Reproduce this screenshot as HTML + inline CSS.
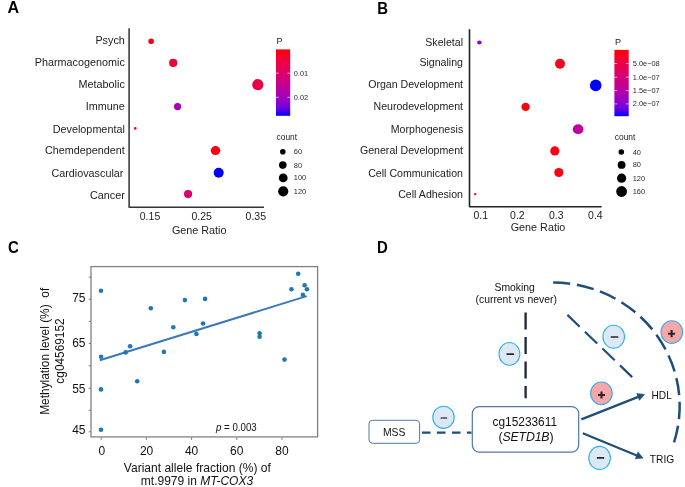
<!DOCTYPE html>
<html><head><meta charset="utf-8">
<style>
html,body{margin:0;padding:0;background:#fff;}
body{width:685px;height:487px;overflow:hidden;}
svg{display:block;will-change:transform;font-family:"Liberation Sans",sans-serif;}
</style></head>
<body>
<svg width="685" height="487" viewBox="0 0 685 487">
<defs>
<linearGradient id="pg" x1="0" y1="0" x2="0" y2="1">
<stop offset="0" stop-color="#ff0000"/>
<stop offset="0.125" stop-color="#f40031"/>
<stop offset="0.25" stop-color="#e80050"/>
<stop offset="0.375" stop-color="#da006c"/>
<stop offset="0.5" stop-color="#ca0088"/>
<stop offset="0.625" stop-color="#b500a5"/>
<stop offset="0.75" stop-color="#9a00c3"/>
<stop offset="0.875" stop-color="#7300e0"/>
<stop offset="1" stop-color="#0000ff"/>
</linearGradient>
</defs>

<!-- ============ PANEL A ============ -->
<text transform="translate(7.6 13) scale(1.06 1.04)" font-size="15.2" font-weight="bold" fill="#000">A</text>
<g font-size="10.8" fill="#222" text-anchor="end">
<text x="124.8" y="44.4">Psych</text>
<text x="124.8" y="65.95">Pharmacogenomic</text>
<text x="124.8" y="88.05">Metabolic</text>
<text x="124.8" y="110.15">Immune</text>
<text x="124.8" y="132.8">Developmental</text>
<text x="124.8" y="154.35">Chemdependent</text>
<text x="123.4" y="177">Cardiovascular</text>
<text x="124.8" y="198.55">Cancer</text>
</g>
<path d="M129.1 28.2V207.3H264" fill="none" stroke="#333" stroke-width="1.5" stroke-linejoin="round"/>
<g>
<circle cx="151.1" cy="41.3" r="2.8" fill="#fa0018"/>
<circle cx="173.2" cy="62.9" r="4.1" fill="#eb003c"/>
<circle cx="257.8" cy="84.7" r="5.6" fill="#e80048"/>
<circle cx="177.6" cy="106.6" r="3.6" fill="#a400b6"/>
<circle cx="135.2" cy="128.4" r="1.3" fill="#ff0000"/>
<ellipse cx="215.5" cy="150.6" rx="4.8" ry="4.5" fill="#ff0010"/>
<circle cx="218.7" cy="172.7" r="5" fill="#0000ff"/>
<circle cx="188.1" cy="194.1" r="4.1" fill="#d8006c"/>
</g>
<g font-size="10.5" fill="#222" text-anchor="middle">
<text x="150" y="220.1">0.15</text>
<text x="201.7" y="220.1">0.25</text>
<text x="255.8" y="220.1">0.35</text>
</g>
<text x="199.2" y="234" font-size="10.8" fill="#222" text-anchor="middle">Gene Ratio</text>
<!-- legend A -->
<text x="276.5" y="44" font-size="9" fill="#222">P</text>
<rect x="276" y="49.4" width="14.2" height="66.4" fill="url(#pg)"/>
<g stroke="#fff" stroke-width="0.8" opacity="0.8">
<path d="M276 73.2h2.8M287.4 73.2h2.8M276 97.3h2.8M287.4 97.3h2.8"/>
</g>
<g font-size="7.4" fill="#2a2a2a">
<text x="293.8" y="75.8">0.01</text>
<text x="293.8" y="100">0.02</text>
</g>
<text x="276.6" y="140.3" font-size="8.4" fill="#222">count</text>
<g fill="#000">
<circle cx="282.8" cy="151.8" r="2.8"/>
<circle cx="282.8" cy="165.1" r="3.8"/>
<circle cx="283.2" cy="177.9" r="4.4"/>
<circle cx="283.2" cy="191.3" r="5.1"/>
</g>
<g font-size="7.4" fill="#2a2a2a">
<text x="293.8" y="154.3">60</text>
<text x="293.8" y="167.6">80</text>
<text x="293.8" y="180.4">100</text>
<text x="293.8" y="193.8">120</text>
</g>

<!-- ============ PANEL B ============ -->
<text transform="translate(377.2 13.6) scale(1 1.15)" font-size="15" font-weight="bold" fill="#000">B</text>
<g font-size="10.6" fill="#222" text-anchor="end">
<text x="463" y="46.3">Skeletal</text>
<text x="463" y="65.7">Signaling</text>
<text x="463" y="87.8">Organ Development</text>
<text x="463" y="110.4">Neurodevelopment</text>
<text x="463.2" y="133.2">Morphogenesis</text>
<text x="463" y="154.05">General Development</text>
<text x="463" y="176.55">Cell Communication</text>
<text x="463" y="198.4">Cell Adhesion</text>
</g>
<path d="M469.5 29.2V206.8H601.6" fill="none" stroke="#222" stroke-width="1.6" stroke-linejoin="round"/>
<g>
<ellipse cx="479.4" cy="42.4" rx="2.3" ry="2" fill="#9400c8"/>
<circle cx="560" cy="63.7" r="5" fill="#ff0018"/>
<circle cx="595.7" cy="85.4" r="5.8" fill="#0000ff"/>
<circle cx="525.6" cy="106.9" r="4.2" fill="#ff0010"/>
<ellipse cx="578.1" cy="129.2" rx="5.3" ry="4.9" fill="#c0009a"/>
<circle cx="554.8" cy="150.9" r="4.6" fill="#ff0010"/>
<circle cx="558.8" cy="172.5" r="4.6" fill="#ff0010"/>
<circle cx="475.2" cy="194.1" r="1.2" fill="#ff0000"/>
</g>
<g font-size="10.5" fill="#222" text-anchor="middle">
<text x="480.8" y="218.8">0.1</text>
<text x="517.4" y="218.8">0.2</text>
<text x="556.2" y="218.8">0.3</text>
<text x="595.4" y="218.8">0.4</text>
</g>
<text x="538" y="231.2" font-size="10.8" fill="#222" text-anchor="middle">Gene Ratio</text>
<!-- legend B -->
<text x="615" y="45" font-size="9" fill="#222">P</text>
<rect x="614.4" y="49.9" width="14.3" height="66.3" fill="url(#pg)"/>
<g stroke="#fff" stroke-width="0.8" opacity="0.8">
<path d="M614.4 63.5h2.8M625.9 63.5h2.8M614.4 77.2h2.8M625.9 77.2h2.8M614.4 90.6h2.8M625.9 90.6h2.8M614.4 103.9h2.8M625.9 103.9h2.8"/>
</g>
<g font-size="7.4" fill="#2a2a2a">
<text x="632.8" y="66">5.0e−08</text>
<text x="632.8" y="79.7">1.0e−07</text>
<text x="632.8" y="93.1">1.5e−07</text>
<text x="632.8" y="106.4">2.0e−07</text>
</g>
<text x="614.8" y="140.3" font-size="8.4" fill="#222">count</text>
<g fill="#000">
<circle cx="621.3" cy="152" r="2.8"/>
<circle cx="621.6" cy="164.9" r="3.9"/>
<circle cx="621.6" cy="178.2" r="4.6"/>
<circle cx="621.6" cy="191.5" r="5.4"/>
</g>
<g font-size="7.4" fill="#2a2a2a">
<text x="632.7" y="154.5">40</text>
<text x="632.7" y="167.4">80</text>
<text x="632.7" y="180.7">120</text>
<text x="632.7" y="194">160</text>
</g>

<!-- ============ PANEL C ============ -->
<text transform="translate(7.9 252.7) scale(1 1.06)" font-size="15" font-weight="bold" fill="#000">C</text>
<rect x="91" y="266.6" width="226.6" height="170.3" fill="none" stroke="#808080" stroke-width="1.3"/>
<g stroke="#666" stroke-width="0.9">
<path d="M88.8 277.2h2M88.8 299.3h2M88.8 321.4h2M88.8 343.5h2M88.8 365.8h2M88.8 388.3h2M88.8 410.3h2M88.8 431.8h2"/>
<path d="M101.2 437.5v2.3M146.4 437.5v2.3M191.6 437.5v2.3M236.8 437.5v2.3M282 437.5v2.3"/>
</g>
<g font-size="12" fill="#111" text-anchor="end">
<text x="85.5" y="302.1">75</text>
<text x="85.5" y="346.6">65</text>
<text x="85.5" y="392.6">55</text>
<text x="85.5" y="433.8">45</text>
</g>
<g font-size="12" fill="#111" text-anchor="middle">
<text x="101.9" y="454.8">0</text>
<text x="146.6" y="454.8">20</text>
<text x="191.6" y="454.8">40</text>
<text x="236.8" y="454.8">60</text>
<text x="282" y="454.8">80</text>
</g>
<g font-size="12" fill="#111" text-anchor="middle">
<text transform="translate(49.3 351.3) rotate(-90)" textLength="127" lengthAdjust="spacingAndGlyphs">Methylation level (%)&#160; of</text>
<text transform="translate(63.8 351) rotate(-90)" textLength="65.3" lengthAdjust="spacingAndGlyphs">cg04569152</text>
<text x="197.3" y="472.3" textLength="147">Variant allele fraction (%) of</text>
<text x="197" y="485">mt.9979 in <tspan font-style="italic">MT-COX3</tspan></text>
</g>
<text x="216" y="430.8" font-size="10.4" fill="#111" textLength="40.7" lengthAdjust="spacingAndGlyphs"><tspan font-style="italic">p</tspan> = 0.003</text>
<path d="M99.8 360.3L306.7 296.1" stroke="#3a7ab8" stroke-width="2" fill="none"/>
<g fill="#1f77b4">
<circle cx="101" cy="290.7" r="2.3"/>
<circle cx="101.1" cy="356.8" r="2.3"/>
<circle cx="101" cy="389.4" r="2.3"/>
<circle cx="101" cy="429.8" r="2.3"/>
<circle cx="125.7" cy="352.4" r="2.3"/>
<circle cx="130.1" cy="346.2" r="2.3"/>
<circle cx="137.2" cy="381.2" r="2.3"/>
<circle cx="150.8" cy="308.3" r="2.3"/>
<circle cx="163.9" cy="351.9" r="2.3"/>
<circle cx="173.3" cy="327.2" r="2.3"/>
<circle cx="184.9" cy="300.1" r="2.3"/>
<circle cx="196.4" cy="333.9" r="2.3"/>
<circle cx="203.1" cy="323.5" r="2.3"/>
<circle cx="205.1" cy="298.9" r="2.3"/>
<circle cx="259.6" cy="333.3" r="2.3"/>
<circle cx="259.6" cy="336.7" r="2.3"/>
<circle cx="284.5" cy="359.6" r="2.3"/>
<circle cx="291.4" cy="289.2" r="2.3"/>
<circle cx="298.2" cy="273.7" r="2.3"/>
<circle cx="304.6" cy="285.3" r="2.3"/>
<circle cx="306.9" cy="289.2" r="2.3"/>
<circle cx="302.9" cy="294.9" r="2.3"/>
</g>

<!-- ============ PANEL D ============ -->
<text transform="translate(376.9 252.6) scale(1.02 1.1)" font-size="14.6" font-weight="bold" fill="#000">D</text>
<g font-size="10.4" fill="#111" text-anchor="middle">
<text x="514.7" y="290.7">Smoking</text>
<text x="516.2" y="303.3">(current vs never)</text>
</g>
<!-- big arc -->
<path d="M553.1 282.46A127.32 123.52 0 0 1 674.05 442.31" fill="none" stroke="#1f4e79" stroke-width="2.5" stroke-dasharray="17.2 6.8"/>
<!-- diagonal -->
<path d="M567.4 314.9L632.2 377.1" fill="none" stroke="#1f4e79" stroke-width="2.2" stroke-dasharray="17 7.3"/>
<!-- vertical -->
<path d="M525.6 312.4V398.2" fill="none" stroke="#1c2838" stroke-width="2.3" stroke-dasharray="17 7.5"/>
<!-- MSS dashed -->
<path d="M421.9 432.7H471.5" fill="none" stroke="#1f4e79" stroke-width="2.2" stroke-dasharray="8.6 6.4"/>
<!-- arrows -->
<path d="M581.4 419.4L639.5 396.4" stroke="#1f4e79" stroke-width="2.3" fill="none"/>
<path d="M644.6 394.4L639.4 400.3L636.8 393.6Z" fill="#1f4e79" stroke="#1f4e79" stroke-width="0.6" stroke-linejoin="round"/>
<path d="M582.8 433.3L638 456" stroke="#1f4e79" stroke-width="2.3" fill="none"/>
<path d="M643.1 458.1L635.3 458.8L638 452.1Z" fill="#1f4e79" stroke="#1f4e79" stroke-width="0.6" stroke-linejoin="round"/>
<!-- boxes -->
<rect x="369" y="420.3" width="50.6" height="23" rx="3.5" fill="#fff" stroke="#4f78a6" stroke-width="1"/>
<text x="394.2" y="435.8" font-size="10.4" fill="#111" text-anchor="middle">MSS</text>
<rect x="472.3" y="406.6" width="106.4" height="45.5" rx="7" fill="#fff" stroke="#4f78a6" stroke-width="1.2"/>
<g font-size="11.6" fill="#111" text-anchor="middle">
<text x="524.8" y="426.3" font-size="11.9" textLength="64.4">cg15233611</text>
<text x="526" y="441.2" font-size="12.3" textLength="55">(<tspan font-style="italic">SETD1B</tspan>)</text>
</g>
<g font-size="10.2" fill="#111">
<text x="651.5" y="398.6">HDL</text>
<text x="649.8" y="462.9">TRIG</text>
</g>
<!-- sign circles -->
<g stroke="#2eb0ec" stroke-width="1.1">
<ellipse cx="613.7" cy="336.7" rx="10.8" ry="11.4" fill="#dde8f5"/>
<ellipse cx="509.4" cy="353.9" rx="10.4" ry="11.4" fill="#dde8f5"/>
<ellipse cx="443.5" cy="417.3" rx="10.7" ry="11.1" fill="#dde8f5"/>
<ellipse cx="599.6" cy="457.9" rx="10.8" ry="11.5" fill="#dde8f5"/>
<ellipse cx="671.8" cy="332.1" rx="10.8" ry="11.3" fill="#f9a6a9"/>
<ellipse cx="601.4" cy="393.3" rx="10.8" ry="11.3" fill="#f9a6a9"/>
</g>
<g stroke="#25252d" stroke-width="1.7" fill="none" stroke-linecap="round">
<path d="M611.4 337h6.2"/>
<path d="M507.2 354.1h6.2"/>
<path d="M441.3 418h5.2" stroke="#4a4a52"/>
<path d="M597.6 457.9h5.9"/>
<path d="M668.1 333.7h7M671.6 330.1v7.2" stroke-width="2.1" stroke-linecap="butt" stroke="#262633"/>
<path d="M598 395h7M601.5 391.4v7.2" stroke-width="2.1" stroke-linecap="butt" stroke="#262633"/>
</g>
</svg>
</body></html>
